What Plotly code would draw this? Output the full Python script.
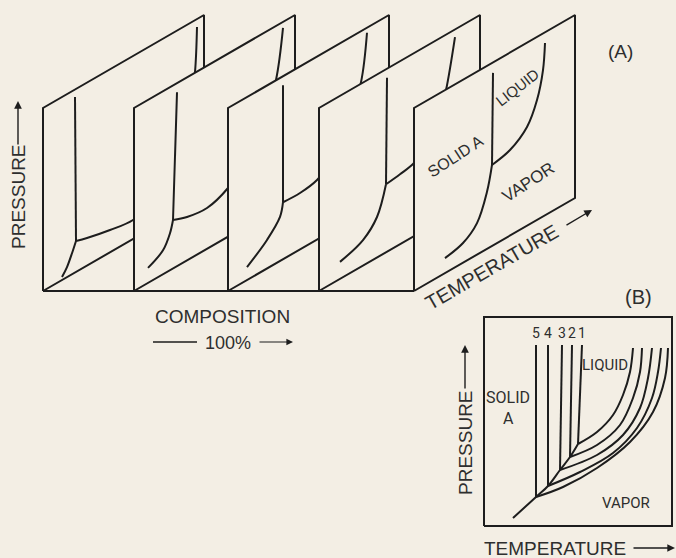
import plotly.graph_objects as go

INK = "#1d1d1d"
PAPER = "#f3eee4"
TEXT = "#2e2e2e"
FONT = "Liberation Sans, Arial, sans-serif"
NARROW = "Roboto, Liberation Sans, sans-serif"

# ---------------------------------------------------------------------------
# (A) five P-T sections through the P-T-x diagram, one per composition,
#     listed back to front.  Each curve is given in its section's own
#     (temperature, pressure) frame.
# ---------------------------------------------------------------------------
section_shift = [0, 91, 185, 276, 371]
SEC_W, SEC_H, SEC_RISE = 161, 183, 93
ORIGIN_A = (43, 291)

# solid A / liquid boundary (near-vertical fusion line)
fusion_T = [[32, 33], [43, 39], [55, 55], [68, 67], [79, 78]]
fusion_P = [[175.5, 31], [174, 48.5], [174, 57], [174, 68], [172.5, 81]]

# solid A / vapor boundary
sublim_T = [[33, 29, 24, 19],
            [39, 36, 29, 14],
            [55, 52, 39, 19],
            [67, 58, 44, 21],
            [78, 73, 63, 49, 31]]
sublim_P = [[31, 21, 10, 3],
            [48.5, 37, 24, 15],
            [57, 44, 28.5, 13],
            [68, 40.5, 25.5, 17],
            [81, 57, 31.5, 19.7, 15]]

# liquid / vapor boundary
boil_T = [[33, 44, 67, 90, 115, 135, 147, 152, 154],
          [39, 53, 73, 94, 115, 130, 142, 149],
          [55, 72, 89, 105, 120, 133, 139],
          [67, 81, 94, 104, 115, 122, 127, 136],
          [78, 96, 113, 123, 129, 131]]
boil_P = [[31, 27.6, 22.3, 19, 28, 55, 95, 131, 175],
          [48.5, 43.4, 40.8, 48.7, 68, 95, 129, 177],
          [57, 56.4, 59.6, 72, 97, 132, 178],
          [68, 70, 72.7, 80, 95, 112, 127.6, 175.4],
          [81, 85.5, 98.7, 119.9, 146.4, 172.3]]

# ---------------------------------------------------------------------------
# (B) the five sections superimposed in one P-T plane
# ---------------------------------------------------------------------------
ORIGIN_B = (484, 526)
BOX_W, BOX_H = 188, 209
b_labels = ["1", "2", "3", "4", "5"]
b_fusion_T_top = [98, 88, 78, 64, 52]
b_fusion_T_bot = [94, 86, 76, 64, 52]
b_fusion_P_top = 181
b_triple_P = [82, 69, 56, 40, 29]
b_sublim_T = [29, 52, 64, 76, 86, 94]
b_sublim_P = [8, 29, 40, 56, 69, 82]
b_boil_T = [[94, 113, 129, 139, 146, 149],
            [86, 113, 136, 149, 156, 158],
            [76, 113, 139, 156, 164, 168],
            [64, 96, 129, 153, 168, 174, 177],
            [52, 79, 113, 146, 169, 181, 184]]
b_boil_P = [[82, 94, 111, 131, 154, 178],
            [69, 81, 101, 128, 154, 178],
            [56, 71, 91, 118, 148, 178],
            [40, 54, 73, 98, 128, 154, 178],
            [29, 39, 58, 84, 114, 148, 178]]


def to_a(i, T, P):
    """Project a section's (T, P) points onto the oblique drawing plane."""
    x0 = ORIGIN_A[0] + section_shift[i]
    xs = [x0 + t for t in T]
    ys = [ORIGIN_A[1] - p - t * SEC_RISE / SEC_W for t, p in zip(T, P)]
    return xs, ys


def to_b(T, P):
    return [ORIGIN_B[0] + t for t in T], [ORIGIN_B[1] - p for p in P]


fig = go.Figure()


def add_line(xs, ys, width=2.0, shape="linear", fill=None):
    fig.add_trace(go.Scatter(
        x=xs, y=ys, mode="lines",
        line=dict(color=INK, width=width, shape=shape, smoothing=1.0),
        fill=fill, fillcolor=PAPER if fill else None,
        hoverinfo="skip", showlegend=False))


# sections, back to front; each opaque section hides the one behind it
for i in range(len(section_shift)):
    frame_T = [0, 0, SEC_W, SEC_W, 0]
    frame_P = [0, SEC_H, SEC_H, 0, 0]
    fx, fy = to_a(i, frame_T, frame_P)
    add_line(fx, fy, width=2.0, fill="toself")
    add_line(*to_a(i, fusion_T[i], fusion_P[i]), width=2.0)
    add_line(*to_a(i, sublim_T[i], sublim_P[i]), width=2.0, shape="spline")
    add_line(*to_a(i, boil_T[i], boil_P[i]), width=2.0, shape="spline")

# composition base line joining the sections
base_x = [ORIGIN_A[0], ORIGIN_A[0] + section_shift[-1]]
add_line(base_x, [ORIGIN_A[1], ORIGIN_A[1]], width=2.0)

# (B) frame and curves
bx, by = to_b([0, BOX_W, BOX_W, 0, 0], [0, 0, BOX_H, BOX_H, 0])
add_line(bx, by, width=2.0)
for k in range(len(b_labels)):
    add_line(*to_b([b_fusion_T_top[k], b_fusion_T_bot[k]],
                   [b_fusion_P_top, b_triple_P[k]]), width=2.0)
    add_line(*to_b(b_boil_T[k], b_boil_P[k]), width=2.0, shape="spline")
add_line(*to_b(b_sublim_T, b_sublim_P), width=2.0, shape="spline")

# "---- 100% ---->" lead line
add_line([153, 197], [342, 342], width=1.3)

ann = []


def label(text, x, y, size, angle=0, font=FONT, color=TEXT):
    ann.append(dict(text=text, x=x, y=y, xref="x", yref="y", showarrow=False,
                    textangle=angle, font=dict(family=font, size=size, color=color),
                    xanchor="center", yanchor="middle"))


def arrow(x0, y0, x1, y1, width=1.4):
    ann.append(dict(text="", x=x1, y=y1, ax=x0, ay=y0, xref="x", yref="y",
                    axref="x", ayref="y", showarrow=True, arrowhead=2,
                    arrowsize=1.1, arrowwidth=width, arrowcolor=INK))


# (A) texts
label("PRESSURE", 18, 197, 19, angle=-90)
arrow(18, 146, 18, 101)
label("COMPOSITION", 222, 316, 19)
label("100%", 228, 343, 18)
arrow(258, 342, 293, 342, width=1.2)
label("TEMPERATURE", 492, 267, 20, angle=-30)
arrow(565, 226, 592, 210)
label("SOLID A", 455, 156, 16, angle=-33)
label("LIQUID", 517, 87, 15, angle=-38)
label("VAPOR", 528, 182, 17, angle=-33)
label("(A)", 620, 51, 19)

# (B) texts
label("(B)", 638, 297, 20)
for k, name in enumerate(b_labels):
    label(name, ORIGIN_B[0] + b_fusion_T_top[k], 333, 14, font=NARROW)
label("SOLID", 508, 397, 16, font=NARROW)
label("A", 508, 418, 16, font=NARROW)
label("LIQUID", 605, 365, 15, font=NARROW)
label("VAPOR", 626, 503, 15, font=NARROW)
label("PRESSURE", 465, 443, 19, angle=-90)
arrow(465, 390, 465, 345)
label("TEMPERATURE", 555, 548, 19)
arrow(632, 548, 675, 548)

fig.update_layout(
    width=676, height=558,
    margin=dict(l=0, r=0, t=0, b=0),
    paper_bgcolor=PAPER, plot_bgcolor=PAPER,
    xaxis=dict(range=[0, 676], visible=False, fixedrange=True),
    yaxis=dict(range=[558, 0], visible=False, fixedrange=True),
    annotations=ann,
    showlegend=False,
)

fig.write_html("out.html")
